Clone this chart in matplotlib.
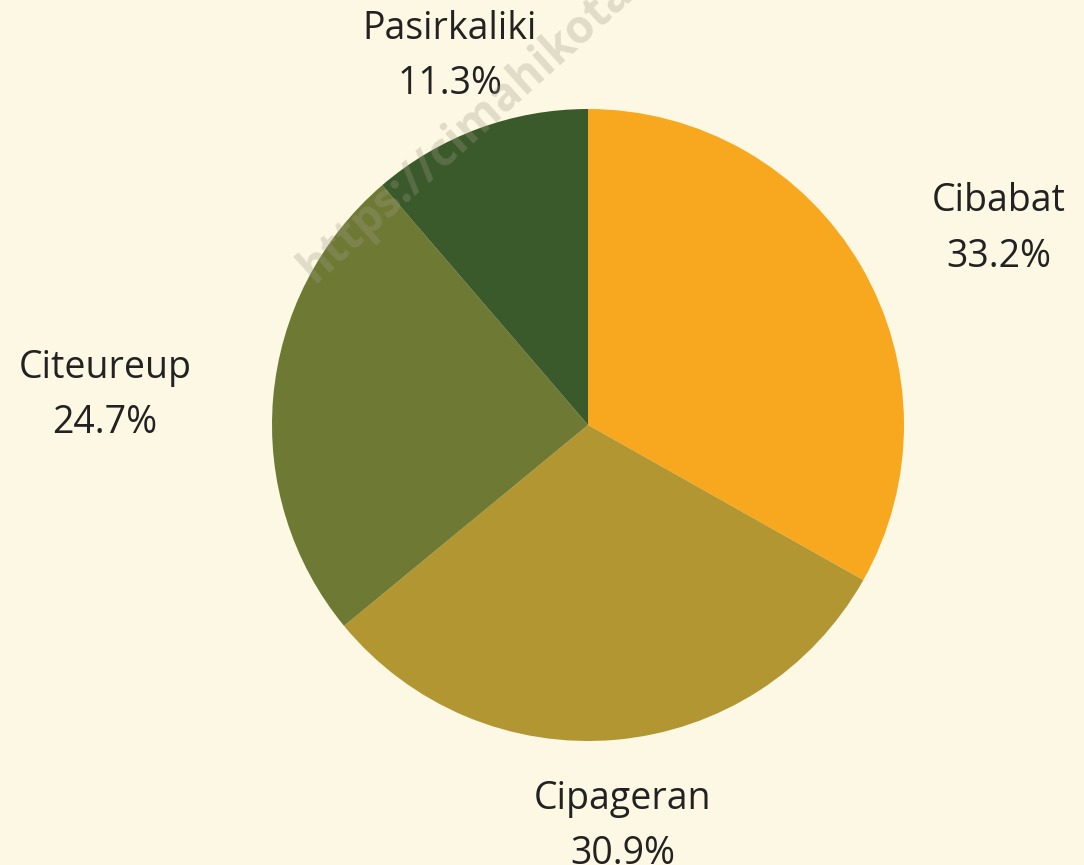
import numpy as np
import matplotlib
matplotlib.use('Agg')
import matplotlib.pyplot as plt

# Data
kelurahan = ['Cibabat', 'Cipageran', 'Citeureup', 'Pasirkaliki']
persen = [33.2, 30.9, 24.7, 11.3]
warna = ['#F8A81E', '#B19631', '#6E7A33', '#3A5A2B']

bg = '#FDF8E3'
plt.rcParams['font.family'] = ['Open Sans', 'DejaVu Sans']

W, H = 1084, 865
cx, cy, R = 588, 425, 316

fig = plt.figure(figsize=(W / 100, H / 100), dpi=100, facecolor=bg)
ax = fig.add_axes([0, 0, 1, 1])
ax.set_facecolor(bg)

ax.pie(persen, colors=warna, startangle=90, counterclock=False, radius=1,
       wedgeprops=dict(linewidth=0))

# batas sumbu supaya pusat di (cx, cy) piksel dan jari-jari R piksel
ax.set_xlim(-cx / R, (W - cx) / R)
ax.set_ylim(-(H - cy) / R, cy / R)
ax.set_aspect('auto')
ax.axis('off')

# label di luar irisan
total = sum(persen)
mulai = 90.0
for nama, p in zip(kelurahan, persen):
    tengah = np.deg2rad(mulai - p / total * 360 / 2)
    mulai -= p / total * 360
    x = 1.26 * np.cos(tengah)
    y = 1.26 * np.sin(tengah) - 0.016
    if abs(np.cos(tengah)) < 0.4:
        ha = 'center'
    elif x > 0:
        ha = 'left'
    else:
        ha = 'right'
    ax.text(x, y, f'{nama}\n{p:.1f}%', ha=ha, va='center', multialignment='center',
            fontsize=27, color='#222222', linespacing=1.6)

# watermark
fig.text(0.29, 0.672, 'https://cimahikota.go.id', rotation=42, fontsize=33,
         fontweight='bold', color='#a09a88', alpha=0.3, ha='left', va='baseline',
         rotation_mode='anchor', zorder=0.5)

fig.savefig('out.png', dpi=100, facecolor=bg)
